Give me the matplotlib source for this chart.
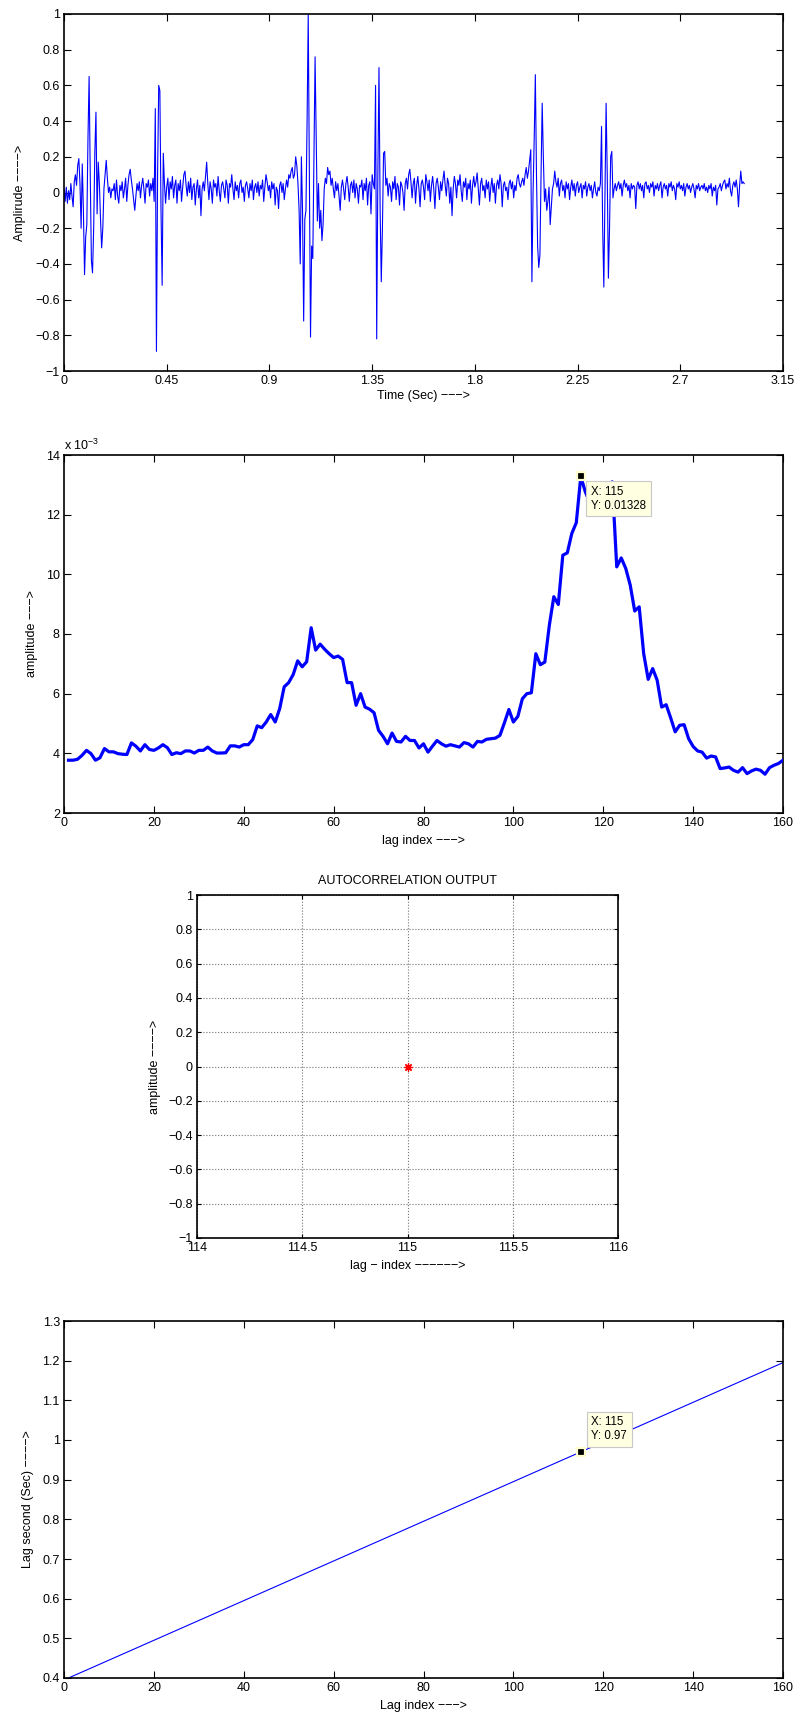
import numpy as np
import matplotlib
matplotlib.use("Agg")
import matplotlib.pyplot as plt
from matplotlib.ticker import FuncFormatter

plt.rcParams['font.family'] = ['Liberation Sans', 'DejaVu Sans']
plt.rcParams['font.size'] = 9

W, H = 800, 1716

# speech frame, one value every 5 ms
dt = 0.005
amplitude = [
    0.02, -0.05, 0.03, -0.06, 0.01, -0.04, 0.05, -0.02, -0.08, 0.06, 0.10, 0.04, 0.15, 0.19, 0.05, -0.20, 0.16, -0.10, -0.46, -0.25,
    -0.18, 0.30, 0.65, 0.10, -0.38, -0.45, -0.20, 0.22, 0.45, -0.12, 0.17, 0.05, -0.15, -0.31, -0.20, 0.02, 0.10, 0.18, 0.08, 0.00,
    0.03, -0.03, 0.02, 0.01, 0.05, -0.04, 0.07, -0.02, -0.06, 0.04, 0.01, 0.06, -0.03, 0.02, 0.08, -0.05, 0.04, 0.10, 0.13, 0.07,
    0.02, -0.04, -0.10, -0.02, 0.05, 0.01, 0.06, -0.03, 0.04, 0.08, 0.02, -0.06, 0.05, 0.03, 0.07, -0.02, 0.05, 0.01, 0.08, -0.05,
    0.47, -0.89, 0.10, 0.60, 0.57, -0.10, -0.52, 0.22, 0.05, -0.06, 0.03, 0.08, -0.04, 0.06, 0.02, 0.09, -0.03, 0.04, 0.07, -0.06,
    0.05, 0.01, 0.07, -0.05, 0.03, 0.10, 0.12, 0.04, -0.02, 0.06, 0.00, 0.08, -0.04, 0.03, 0.05, -0.07, 0.02, 0.07, -0.03, 0.04,
    -0.13, 0.02, 0.06, 0.01, 0.09, 0.17, 0.05, -0.04, 0.06, 0.02, -0.06, 0.07, 0.03, 0.05, -0.02, 0.09, 0.01, -0.05, 0.04, 0.06,
    0.02, -0.03, 0.07, 0.04, -0.06, 0.05, 0.03, 0.10, 0.02, -0.04, 0.06, 0.01, 0.04, -0.03, 0.05, 0.07, 0.00, 0.03, -0.05, 0.04,
    0.06, 0.02, -0.03, 0.05, 0.01, 0.07, -0.04, 0.03, 0.05, 0.00, 0.06, -0.02, 0.04, 0.02, 0.07, -0.05, 0.03, 0.10, 0.06, 0.01,
    0.04, -0.03, 0.06, 0.02, 0.05, -0.07, 0.03, 0.01, -0.09, 0.04, 0.06, 0.00, 0.05, -0.04, 0.02, 0.07, 0.03, 0.10, 0.08, 0.12,
    0.14, 0.08, 0.10, 0.20, 0.15, 0.05, -0.10, -0.40, 0.20, -0.10, -0.72, -0.15, -0.10, 0.40, 1.00, 0.10, -0.81, -0.30, -0.37, 0.20,
    0.76, 0.30, -0.16, 0.05, -0.20, -0.10, -0.27, -0.18, 0.02, 0.08, 0.05, 0.14, 0.10, 0.12, 0.04, 0.08, 0.02, -0.03, 0.06, 0.01,
    0.05, -0.02, -0.10, 0.03, 0.07, 0.02, -0.04, 0.05, 0.09, 0.03, -0.05, 0.04, 0.06, 0.00, 0.07, -0.03, 0.05, 0.02, -0.06, 0.04,
    0.03, 0.07, -0.04, 0.05, 0.01, 0.08, -0.07, 0.04, 0.06, -0.12, 0.10, 0.05, 0.02, 0.60, -0.82, 0.10, 0.70, -0.10, -0.50, -0.20,
    0.22, 0.23, 0.04, 0.08, -0.02, 0.05, 0.03, -0.05, 0.06, 0.02, 0.09, -0.04, 0.05, 0.03, -0.07, 0.06, 0.04, 0.00, -0.10, 0.05,
    0.08, 0.02, 0.10, 0.13, 0.06, -0.03, 0.05, 0.08, -0.06, 0.04, 0.09, 0.02, -0.08, 0.05, 0.07, 0.03, -0.04, 0.10, 0.06, 0.01,
    0.07, -0.05, 0.04, 0.09, 0.02, -0.09, 0.05, 0.08, 0.03, -0.04, 0.06, 0.01, 0.07, 0.12, 0.04, -0.02, 0.08, 0.05, -0.06, 0.03,
    -0.13, 0.02, 0.09, 0.05, -0.03, 0.07, 0.04, 0.10, 0.01, -0.05, 0.06, 0.03, 0.08, -0.04, 0.05, 0.02, 0.07, -0.06, 0.04, 0.09,
    0.03, 0.06, 0.11, 0.02, -0.07, 0.05, 0.08, 0.01, 0.04, -0.03, 0.07, 0.02, 0.06, -0.05, 0.03, 0.08, 0.00, 0.05, -0.06, 0.04,
    0.07, 0.02, 0.10, 0.05, -0.08, 0.04, 0.06, 0.01, 0.03, -0.04, 0.05, 0.07, 0.02, 0.06, -0.03, 0.04, 0.01, 0.08, 0.10, 0.05,
    0.03, 0.06, 0.08, 0.04, 0.10, 0.14, 0.08, 0.12, 0.18, 0.24, -0.50, 0.00, 0.30, 0.66, 0.10, -0.30, -0.42, -0.35, 0.10, 0.50,
    0.20, -0.05, 0.02, -0.10, -0.05, 0.03, -0.18, -0.08, 0.02, 0.05, 0.12, 0.06, 0.03, 0.08, -0.02, 0.05, 0.07, 0.01, 0.04, -0.03,
    0.06, 0.02, 0.05, -0.04, 0.03, 0.07, 0.01, 0.05, -0.02, 0.04, 0.06, 0.00, 0.03, 0.05, -0.03, 0.04, 0.02, 0.06, -0.02, 0.03,
    0.05, 0.01, 0.04, -0.03, 0.02, 0.06, 0.00, -0.02, 0.03, 0.01, 0.05, 0.37, -0.20, -0.53, 0.00, 0.50, 0.10, -0.48, -0.20, 0.20,
    0.23, -0.03, 0.02, 0.05, 0.01, 0.04, 0.06, 0.02, 0.05, -0.02, 0.04, 0.07, 0.03, 0.05, 0.01, 0.04, -0.03, 0.05, 0.02, 0.04,
    0.03, -0.09, 0.04, 0.06, 0.02, 0.05, 0.01, 0.04, -0.03, 0.05, 0.06, 0.02, 0.04, 0.00, 0.05, 0.03, 0.06, -0.02, 0.04, 0.02,
    0.05, 0.01, 0.04, 0.06, -0.03, 0.03, 0.05, 0.02, 0.04, -0.02, 0.05, 0.03, 0.06, 0.01, 0.04, 0.02, -0.04, 0.05, 0.03, 0.06,
    0.02, 0.04, 0.01, 0.05, -0.02, 0.03, 0.05, 0.02, 0.04, 0.00, 0.03, 0.05, 0.02, -0.03, 0.04, 0.02, 0.05, 0.01, 0.03, 0.04,
    0.02, 0.05, 0.01, 0.03, 0.00, 0.04, 0.02, 0.05, -0.02, 0.03, 0.01, 0.04, -0.07, 0.02, 0.03, 0.05, 0.01, 0.04, 0.06, 0.07,
    0.02, 0.05, 0.03, 0.08, 0.01, -0.02, 0.04, 0.06, 0.03, 0.07, 0.02, -0.08, 0.04, 0.12, 0.05, 0.06, 0.05,
]

# autocorrelation for lags 1..160, in units of 1e-3
lag_index = np.arange(1, 161)
autocorr_e3 = [
    3.77, 3.77, 3.80, 3.93, 4.10, 3.99, 3.77, 3.85, 4.16, 4.05,
    4.05, 3.99, 3.97, 3.96, 4.35, 4.24, 4.08, 4.29, 4.13, 4.10,
    4.18, 4.29, 4.19, 3.96, 4.02, 3.99, 4.08, 4.08, 4.01, 4.10,
    4.10, 4.21, 4.08, 4.01, 4.01, 4.02, 4.25, 4.25, 4.21, 4.29,
    4.29, 4.46, 4.92, 4.86, 5.05, 5.30, 5.05, 5.50, 6.23, 6.37,
    6.64, 7.10, 6.90, 7.07, 8.21, 7.46, 7.66, 7.49, 7.34, 7.21,
    7.26, 7.15, 6.37, 6.37, 5.61, 6.00, 5.55, 5.48, 5.36, 4.77,
    4.57, 4.32, 4.68, 4.40, 4.38, 4.57, 4.43, 4.43, 4.18, 4.32,
    4.04, 4.24, 4.43, 4.32, 4.24, 4.29, 4.25, 4.21, 4.36, 4.32,
    4.21, 4.40, 4.38, 4.47, 4.49, 4.51, 4.60, 5.02, 5.47, 5.05,
    5.24, 5.83, 6.00, 6.03, 7.34, 6.97, 7.06, 8.29, 9.25, 8.99,
    10.64, 10.72, 11.37, 11.73, 13.28, 12.77, 12.40, 12.60, 12.90, 12.70,
    13.00, 13.10, 10.25, 10.55, 10.20, 9.64, 8.77, 8.91, 7.34, 6.48,
    6.84, 6.45, 5.55, 5.63, 5.19, 4.72, 4.94, 4.96, 4.49, 4.23,
    4.08, 4.04, 3.84, 3.91, 3.88, 3.49, 3.51, 3.54, 3.43, 3.37,
    3.52, 3.32, 3.41, 3.47, 3.43, 3.30, 3.52, 3.60, 3.66, 3.77,
]
pitch_lag = 115

# pitch pick shown on its own
pick_value = 0.0

# lag index converted to seconds
lag_line_index = [1, 160]
lag_line_seconds = [0.400, 1.195]
pick_seconds = 0.97

signal_t = np.arange(len(amplitude)) * dt
autocorr = np.array(autocorr_e3) * 1e-3
pick_autocorr = autocorr[pitch_lag - 1]

# axes boxes in pixels: left, top, right, bottom
boxes = [
    (64, 14, 783, 371),
    (64, 455, 783, 813),
    (197, 895, 618, 1238),
    (64, 1321, 783, 1678),
]

fig = plt.figure(figsize=(W / 100, H / 100), dpi=100)
axes = []
for l, t, r, b in boxes:
    axes.append(fig.add_axes([l / W, 1 - b / H, (r - l) / W, (b - t) / H]))


def fmt(v, pos=None):
    return ('%g' % round(v, 6)).replace('-', '\u2212')


def style(ax, tick_len=5):
    ax.tick_params(direction='in', length=tick_len, width=0.8, top=True, right=True,
                   pad=3, labelsize=9)
    for s in ax.spines.values():
        s.set_linewidth(1.2)


def place_labels(ax, box, xlab_y, ylab_x):
    l, t, r, b = box
    ax.xaxis.set_label_coords(0.5, (b - xlab_y) / (b - t))
    ax.xaxis.label.set_va('center')
    ax.yaxis.set_label_coords((ylab_x - l) / (r - l), 0.5)
    ax.yaxis.label.set_va('center')


def datatip(ax, x, y, text, dx, dy, va):
    ax.plot([x], [y], marker='s', ms=6, mfc='k', mec='#ffffd0', mew=1.6,
            zorder=6, clip_on=False)
    ax.annotate(text, (x, y), xytext=(dx, dy), textcoords='offset pixels',
                ha='left', va=va, fontsize=8.3, zorder=7,
                bbox=dict(boxstyle='square,pad=0.4', fc='#ffffe1', ec='#c8c8c8', lw=0.8))


# speech waveform
ax = axes[0]
ax.plot(signal_t, amplitude, color='#0000ff', lw=0.8)
ax.set_xlim(0, 3.15)
ax.set_ylim(-1, 1)
ax.set_xticks(np.arange(8) * 0.45)
ax.set_yticks(np.linspace(-1, 1, 11))
ax.xaxis.set_major_formatter(FuncFormatter(fmt))
ax.yaxis.set_major_formatter(FuncFormatter(fmt))
ax.set_xlabel('Time (Sec) \u2212\u2212\u2212>')
ax.set_ylabel('Amplirude \u2212\u2212\u2212\u2212>')
style(ax)
place_labels(ax, boxes[0], 396, 20)

# autocorrelation
ax = axes[1]
ax.plot(lag_index, autocorr, color='#0000ff', lw=2.3, zorder=3)
ax.set_xlim(0, 160)
ax.set_ylim(2e-3, 14e-3)
ax.set_xticks(np.arange(0, 161, 20))
ax.set_yticks(np.arange(2, 15, 2) * 1e-3)
ax.yaxis.set_major_formatter(FuncFormatter(lambda v, p: fmt(v * 1e3)))
ax.set_xlabel('lag index \u2212\u2212\u2212>')
ax.set_ylabel('amplitude \u2212\u2212\u2212>')
style(ax)
place_labels(ax, boxes[1], 841, 32)
ax.text(0, (813 - 450) / (813 - 455), 'x 10$^{\\mathregular{\u22123}}$', transform=ax.transAxes,
        ha='left', va='baseline', fontsize=9)
datatip(ax, pitch_lag, pick_autocorr, 'X: %d\nY: %.4g' % (pitch_lag, pick_autocorr),
        10.3, -9.6, 'top')

# single pitch pick
ax = axes[2]
ax.plot([pitch_lag], [pick_value], linestyle='none', marker=(8, 2, 0), ms=6,
        color='red', mew=0.9)
ax.set_xlim(114, 116)
ax.set_ylim(-1, 1)
ax.set_xticks(np.arange(114, 116.01, 0.5))
ax.set_yticks(np.linspace(-1, 1, 11))
ax.xaxis.set_major_formatter(FuncFormatter(fmt))
ax.yaxis.set_major_formatter(FuncFormatter(fmt))
ax.grid(True, linestyle=':', color='0.45', linewidth=0.8)
ax.set_title('AUTOCORRELATION OUTPUT', fontsize=9, pad=8)
ax.set_xlabel('lag \u2212 index \u2212\u2212\u2212\u2212\u2212\u2212>')
ax.set_ylabel('amplitude \u2212\u2212\u2212\u2212>')
style(ax, tick_len=3)
place_labels(ax, boxes[2], 1266, 155)

# lag in seconds
ax = axes[3]
ax.plot(lag_line_index, lag_line_seconds, color='#0000ff', lw=0.8)
ax.set_xlim(0, 160)
ax.set_ylim(0.4, 1.3)
ax.set_xticks(np.arange(0, 161, 20))
ax.set_yticks(np.linspace(0.4, 1.3, 10))
ax.yaxis.set_major_formatter(FuncFormatter(fmt))
ax.set_xlabel('Lag index \u2212\u2212\u2212>')
ax.set_ylabel('Lag second (Sec) \u2212\u2212\u2212\u2212>')
style(ax)
place_labels(ax, boxes[3], 1706, 28)
datatip(ax, pitch_lag, pick_seconds, 'X: %d\nY: %g' % (pitch_lag, pick_seconds),
        10.6, 9.9, 'bottom')

fig.savefig('out.png', dpi=100, facecolor='white')
